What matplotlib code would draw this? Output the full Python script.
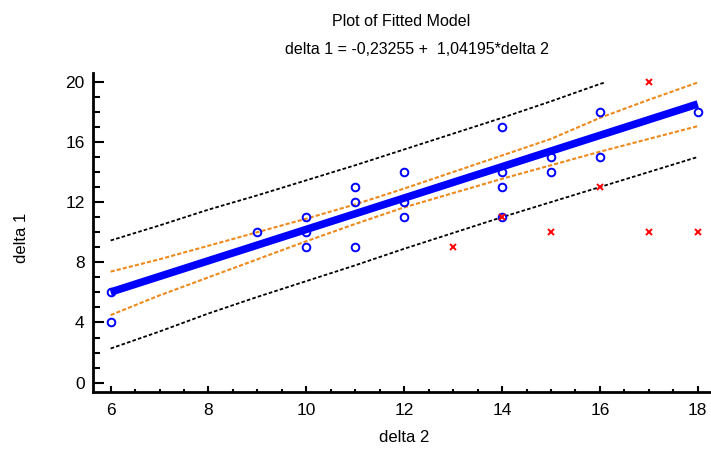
import numpy as np
import matplotlib.pyplot as plt

plt.rcParams['font.family'] = ['Liberation Sans', 'DejaVu Sans']

# observed points (blue circles)
obs_x = [6, 6, 9, 10, 10, 10, 11, 11, 11, 12, 12, 12, 14, 14, 14, 14, 15, 15, 16, 16, 18]
obs_y = [6, 4, 10, 11, 10, 9, 13, 12, 9, 14, 12, 11, 17, 14, 13, 11, 15, 14, 18, 15, 18]

# excluded points (red crosses)
exc_x = [13, 14, 15, 16, 17, 17, 18]
exc_y = [9, 11, 10, 13, 20, 10, 10]

# fitted line: delta 1 = -0,23255 + 1,04195*delta 2
fit_x = [6, 18]
fit_y = [6.02, 18.52]

# limits
band_x = [6, 7, 8, 9, 10, 11, 12, 13, 14, 15, 16, 17, 18]
conf_hi = [7.38, 8.2, 9.1, 10.0, 10.9, 11.85, 12.9, 14.0, 15.1, 16.2, 17.6, 18.8, 19.95]
conf_lo = [4.49, 5.8, 7.0, 8.2, 9.4, 10.55, 11.65, 12.6, 13.55, 14.45, 15.35, 16.2, 17.05]
pred_hi_x = [6, 7, 8, 9, 10, 11, 12, 13, 14, 15, 16, 16.1]
pred_hi = [9.45, 10.45, 11.5, 12.45, 13.45, 14.45, 15.5, 16.55, 17.6, 18.7, 19.85, 19.95]
pred_lo = [2.27, 3.4, 4.6, 5.7, 6.75, 7.8, 8.9, 9.95, 11.0, 12.0, 13.0, 14.0, 15.0]

fig = plt.figure(figsize=(7.11, 4.51), dpi=100)
ax = fig.add_axes([93/711, 1-392/451, 1-93/711, 319/451])

ax.plot(pred_hi_x, pred_hi, color='black', lw=1.3, ls=(0, (2, 1.2)))
ax.plot(band_x, pred_lo, color='black', lw=1.3, ls=(0, (2, 1.2)))
ax.plot(band_x, conf_hi, color='#EE8A1C', lw=1.5, ls=(0, (2, 1)))
ax.plot(band_x, conf_lo, color='#EE8A1C', lw=1.5, ls=(0, (2, 1)))
ax.plot(fit_x, fit_y, color='#0000FF', lw=5.5, solid_capstyle='butt')
ax.plot(obs_x, obs_y, 'o', mfc='none', mec='#0000FF', ms=5.5, mew=1.4, clip_on=False)
ax.plot(exc_x, exc_y, 'x', color='#FF0000', ms=5, mew=1.4, clip_on=False)

ax.set_xlim(5.64, 18.27)
ax.set_ylim(-0.62, 20.58)
ax.set_xticks(np.arange(6, 19, 2))
ax.set_xticks(np.arange(6, 18.1, 0.5), minor=True)
ax.set_yticks(np.arange(0, 21, 4))
ax.set_yticks(np.arange(0, 20.1, 1), minor=True)

for s in ['top', 'right']:
    ax.spines[s].set_visible(False)
for s in ['left', 'bottom']:
    ax.spines[s].set_linewidth(2)

ax.tick_params(axis='y', which='major', direction='in', length=8, width=1.5, labelsize=12.5, pad=6)
ax.tick_params(axis='y', which='minor', direction='in', length=5, width=1.5)
ax.tick_params(axis='x', which='major', direction='in', length=4.5, width=1.5, labelsize=12.5, pad=8)
ax.tick_params(axis='x', which='minor', direction='in', length=2.2, width=1.5)

fig.text(401/711, 1-21/451, 'Plot of Fitted Model', ha='center', va='center', fontsize=11.5)
fig.text(417/711, 1-49/451, 'delta 1 = -0,23255 +  1,04195*delta 2', ha='center', va='center', fontsize=11.5)
fig.text(404/711, 1-437/451, 'delta 2', ha='center', va='center', fontsize=12)
fig.text(22/711, 1-238/451, 'delta 1', ha='center', va='center', fontsize=12, rotation=90)

fig.savefig('out.png', dpi=100)
